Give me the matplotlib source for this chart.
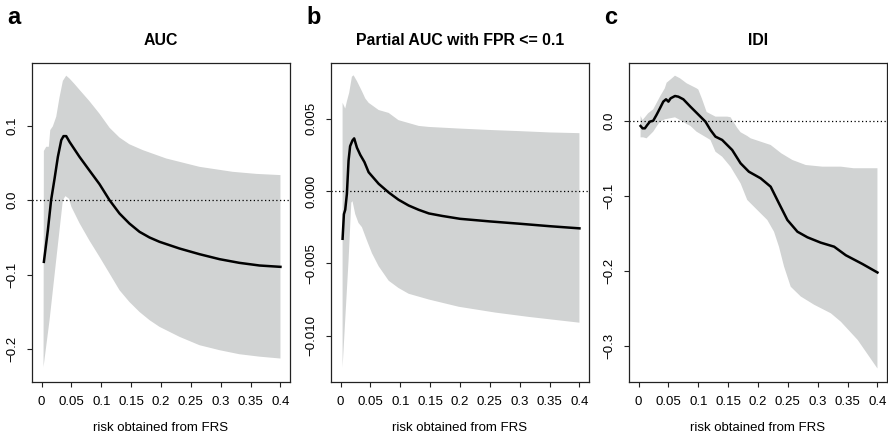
import numpy as np
import matplotlib
matplotlib.use("Agg")
import matplotlib.pyplot as plt

plt.rcParams["font.family"] = ["Liberation Sans", "DejaVu Sans"]

# ---- data -------------------------------------------------------------
x_ticks = [0, 0.05, 0.1, 0.15, 0.2, 0.25, 0.3, 0.35, 0.4]
x_tick_labels = ["0", "0.05", "0.1", "0.15", "0.2", "0.25", "0.3", "0.35", "0.4"]

# (a) AUC
auc_upper_x = [0.0039, 0.0079, 0.0122, 0.0146, 0.0189, 0.0246, 0.0301, 0.0357, 0.0413,
               0.047, 0.055, 0.0636, 0.080, 0.097, 0.114, 0.1305, 0.147, 0.1696, 0.2087,
               0.2644, 0.320, 0.36, 0.4]
auc_upper = [0.066, 0.0716, 0.0716, 0.094, 0.099, 0.112, 0.138, 0.160, 0.167,
             0.163, 0.156, 0.148, 0.133, 0.116, 0.097, 0.084, 0.075, 0.0671, 0.0559,
             0.0447, 0.038, 0.0352, 0.0336]
auc_mid_x = [0.0039, 0.0106, 0.016, 0.0218, 0.0273, 0.033, 0.0368, 0.0413, 0.047, 0.0636,
             0.080, 0.097, 0.1138, 0.1305, 0.147, 0.164, 0.1808, 0.1975, 0.231, 0.2644,
             0.298, 0.331, 0.365, 0.4]
auc_mid = [-0.0828, -0.040, 0.0, 0.029, 0.058, 0.0805, 0.0859, 0.0859, 0.078, 0.058,
           0.040, 0.0215, 0.0, -0.0179, -0.0313, -0.0425, -0.0501, -0.0559, -0.0649,
           -0.0725, -0.0792, -0.0841, -0.0877, -0.0895]
auc_lower_x = [0.0033, 0.0134, 0.0245, 0.0357, 0.040, 0.0457, 0.050, 0.0636, 0.080, 0.097,
               0.1138, 0.1305, 0.147, 0.164, 0.1808, 0.1975, 0.231, 0.2644, 0.298, 0.331,
               0.365, 0.4]
auc_lower = [-0.224, -0.161, -0.0805, 0.0, 0.0054, 0.002, -0.009, -0.031, -0.054, -0.076,
             -0.0984, -0.1208, -0.1365, -0.150, -0.161, -0.170, -0.1834, -0.1946, -0.2013,
             -0.2067, -0.210, -0.2125]
auc_yticks = [-0.2, -0.1, 0.0, 0.1]
auc_ytick_labels = ["\u22120.2", "\u22120.1", "0.0", "0.1"]

# (b) partial AUC with FPR <= 0.1
pauc_upper_x = [0.0034, 0.0078, 0.0106, 0.0145, 0.019, 0.0218, 0.0274, 0.0358, 0.0414,
                0.047, 0.0638, 0.0806, 0.097, 0.114, 0.131, 0.148, 0.198, 0.25, 0.3,
                0.35, 0.4]
pauc_upper = [0.0061, 0.0057, 0.0062, 0.0068, 0.0079, 0.0080, 0.0076, 0.0069, 0.0064,
              0.0061, 0.0056, 0.0054, 0.0049, 0.0047, 0.0045, 0.00443, 0.00432, 0.00422,
              0.00414, 0.00405, 0.0040]
pauc_mid_x = [0.0034, 0.0056, 0.0078, 0.0106, 0.0134, 0.016, 0.020, 0.0228, 0.0274, 0.033,
              0.040, 0.047, 0.0638, 0.0806, 0.097, 0.114, 0.131, 0.148, 0.17, 0.2, 0.25,
              0.3, 0.35, 0.4]
pauc_mid = [-0.0033, -0.0016, -0.0013, -0.0002, 0.0021, 0.0031, 0.0035, 0.00364, 0.0030,
            0.0025, 0.0020, 0.0013, 0.0005, -0.0001, -0.0006, -0.0010, -0.0013, -0.00155,
            -0.00172, -0.00192, -0.00210, -0.00226, -0.00243, -0.00258]
pauc_lower_x = [0.0034, 0.0078, 0.0134, 0.018, 0.020, 0.0246, 0.030, 0.0358, 0.044, 0.0526,
                0.0638, 0.0806, 0.097, 0.114, 0.148, 0.198, 0.259, 0.315, 0.4]
pauc_lower = [-0.0122, -0.0089, -0.0048, -0.0008, -0.0007, -0.0016, -0.0022, -0.0025,
              -0.0034, -0.0043, -0.0052, -0.0062, -0.0067, -0.0071, -0.0075, -0.0080,
              -0.0084, -0.0087, -0.0091]
pauc_yticks = [-0.010, -0.005, 0.000, 0.005]
pauc_ytick_labels = ["\u22120.010", "\u22120.005", "0.000", "0.005"]

# (c) IDI
idi_upper_x = [0.0034, 0.0067, 0.0106, 0.016, 0.0246, 0.0358, 0.044, 0.047, 0.0526, 0.061,
               0.0694, 0.0806, 0.097, 0.100, 0.106, 0.114, 0.1288, 0.1485, 0.154, 0.165,
               0.1708, 0.182, 0.1876, 0.2212, 0.239, 0.2576, 0.28, 0.3078, 0.3387, 0.36,
               0.4]
idi_upper = [0.0067, 0.0013, 0.0049, 0.0102, 0.0156, 0.0324, 0.0436, 0.051, 0.0547, 0.0604,
             0.0569, 0.0502, 0.0436, 0.042, 0.030, 0.012, 0.0058, 0.0058, 0.005, -0.009,
             -0.015, -0.020, -0.0231, -0.032, -0.0431, -0.052, -0.0587, -0.0609, -0.0609,
             -0.063, -0.063]
idi_mid_x = [0.0034, 0.0067, 0.0106, 0.0146, 0.019, 0.0246, 0.030, 0.0358, 0.0414, 0.046,
             0.050, 0.0537, 0.061, 0.0666, 0.075, 0.0868, 0.1008, 0.112, 0.1204, 0.1288,
             0.140, 0.1568, 0.1708, 0.1847, 0.2044, 0.2212, 0.2351, 0.2492, 0.266, 0.2828,
             0.305, 0.3275, 0.347, 0.375, 0.4]
idi_mid = [-0.0067, -0.0098, -0.0098, -0.0053, -0.0009, 0.0004, 0.008, 0.0169, 0.0258, 0.0289,
           0.0258, 0.0302, 0.0333, 0.0324, 0.0289, 0.0191, 0.008, -0.0009, -0.012, -0.0209,
           -0.0253, -0.0387, -0.0564, -0.0676, -0.0764, -0.0876, -0.1098, -0.132, -0.1476,
           -0.1551, -0.1622, -0.1676, -0.179, -0.1907, -0.202]
idi_lower_x = [0.0034, 0.0078, 0.0134, 0.019, 0.0246, 0.030, 0.0358, 0.044, 0.0526, 0.061,
               0.0694, 0.0806, 0.0868, 0.097, 0.1092, 0.1204, 0.1288, 0.140, 0.154, 0.1708,
               0.182, 0.1988, 0.2156, 0.2268, 0.2351, 0.2436, 0.2548, 0.2716, 0.294, 0.322,
               0.3387, 0.367, 0.4]
idi_lower = [-0.0218, -0.0218, -0.0231, -0.0187, -0.0142, -0.0076, -0.0009, 0.0022, 0.0036,
             0.0049, 0.0013, -0.004, -0.0065, -0.0142, -0.0200, -0.0253, -0.041, -0.0476,
             -0.061, -0.0831, -0.1053, -0.1187, -0.132, -0.1476, -0.1676, -0.194, -0.221,
             -0.234, -0.245, -0.2564, -0.2676, -0.292, -0.33]
idi_yticks = [-0.3, -0.2, -0.1, 0.0]
idi_ytick_labels = ["\u22120.3", "\u22120.2", "\u22120.1", "0.0"]

panels = [
    dict(letter="a", title="AUC", ux=auc_upper_x, u=auc_upper, mx=auc_mid_x, m=auc_mid,
         lx=auc_lower_x, l=auc_lower, yt=auc_yticks, ytl=auc_ytick_labels,
         ylim=(-0.244, 0.184), left=32),
    dict(letter="b", title="Partial AUC with FPR <= 0.1", ux=pauc_upper_x, u=pauc_upper,
         mx=pauc_mid_x, m=pauc_mid, lx=pauc_lower_x, l=pauc_lower, yt=pauc_yticks,
         ytl=pauc_ytick_labels, ylim=(-0.0132, 0.00885), left=331),
    dict(letter="c", title="IDI", ux=idi_upper_x, u=idi_upper, mx=idi_mid_x, m=idi_mid,
         lx=idi_lower_x, l=idi_lower, yt=idi_yticks, ytl=idi_ytick_labels,
         ylim=(-0.348, 0.0773), left=629),
]

# ---- figure -----------------------------------------------------------
W, H = 888, 438
fig = plt.figure(figsize=(W / 100, H / 100), dpi=100)

band_color = "#d1d3d3"
box_top, box_bottom, box_w = 63, 382, 258
label_size = 9.5

for p in panels:
    ax = fig.add_axes([p["left"] / W, 1 - box_bottom / H, box_w / W, (box_bottom - box_top) / H])
    poly_x = np.concatenate([p["ux"], p["lx"][::-1]])
    poly_y = np.concatenate([p["u"], p["l"][::-1]])
    ax.fill(poly_x, poly_y, color=band_color, lw=0, zorder=1)
    ax.axhline(0, color="black", lw=0.9, ls=(0, (1, 2)), zorder=2)
    ax.plot(p["mx"], p["m"], color="black", lw=1.8, zorder=3, solid_joinstyle="round")

    ax.set_xlim(-0.016, 0.416)
    ax.set_ylim(*p["ylim"])
    ax.set_xticks(x_ticks)
    ax.set_xticklabels(x_tick_labels, fontsize=label_size)
    ax.set_yticks(p["yt"])
    ax.set_yticklabels(p["ytl"], fontsize=label_size, rotation=90, va="center")
    ax.tick_params(axis="both", direction="out", length=3.8, width=0.8, color="#222222")
    ax.tick_params(axis="x", pad=6.0)
    ax.tick_params(axis="y", pad=6)
    for s in ax.spines.values():
        s.set_linewidth(0.9)
        s.set_color("#222222")

    ax.set_xlabel("risk obtained from FRS", fontsize=label_size, labelpad=10.5)
    ax.set_title(p["title"], fontsize=11.4, fontweight="bold", pad=13.3)

    fig.text((p["left"] - 25) / W, 1 - 17 / H, p["letter"], fontsize=17,
             fontweight="bold", ha="left", va="center")

fig.savefig("out.png", dpi=100)
